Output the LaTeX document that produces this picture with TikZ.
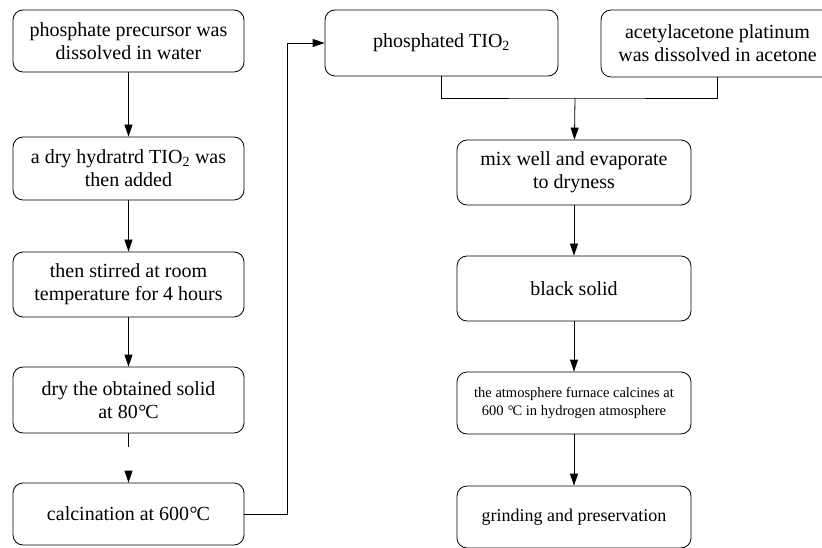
\documentclass[tikz,border=0pt]{standalone}
\usepackage{fontspec}
\setmainfont{Liberation Serif}
\usetikzlibrary{arrows.meta}
\newcommand{\degC}{{\kern0.5pt°\kern-1pt C}}
\tikzset{
  box/.style={draw=black, line width=0.8pt, rounded corners=10pt, rectangle, inner sep=0pt, align=center,
    font=\rmfamily\fontsize{20}{23}\selectfont, text=black},
  lbox/.style={box, minimum width=231pt},
  rbox/.style={box, minimum width=234pt},
  arr/.style={draw=black, line width=0.8pt, -{Triangle[width=8pt,length=12pt]}},
  ln/.style={draw=black, line width=0.8pt},
}
\begin{document}
\begin{tikzpicture}[x=1pt,y=-1pt]
\useasboundingbox (0,0) rectangle (822,548);
% left column
\node[lbox, minimum height=62pt] (b1) at (128.5,41) {phosphate precursor was\\dissolved in water};
\node[lbox, minimum height=63pt] (b2) at (128.5,168.5) {a dry hydratrd TIO\textsubscript{2} was\\then added};
\node[lbox, minimum height=65pt] (b3) at (128.5,284.5) {then stirred at room\\temperature for 4 hours};
\node[lbox, minimum height=66pt] (b4) at (128.5,400) {dry the obtained solid\\at 80\degC};
\node[lbox, minimum height=62pt] (b5) at (128.5,514) {calcination at 600\degC};
% top right
\node[box, minimum width=233pt, minimum height=66pt] (p) at (441.5,43) {phosphated TIO\textsubscript{2}};
\node[box, minimum width=233pt, minimum height=67pt] (a) at (717.5,43.5) {acetylacetone platinum\\was dissolved in acetone};
% right column
\node[rbox, minimum height=65pt] (m) at (574,172.5) {mix well and evaporate\\to dryness};
\node[rbox, minimum height=65pt] (s) at (574,288.5) {black solid};
\node[rbox, minimum height=62pt, font=\rmfamily\fontsize{14.5}{18}\selectfont] (f) at (574,403) {the atmosphere furnace calcines at\\600 \degC{} in hydrogen atmosphere};
\node[rbox, minimum height=62pt, font=\rmfamily\fontsize{18}{21}\selectfont] (g) at (574,517) {grinding and preservation};
\coordinate (j) at (575,98);
% connectors
\draw[arr] (b1) -- (b2);
\draw[arr] (b2) -- (b3);
\draw[arr] (b3) -- (b4);
\draw[arr, dash pattern=on 14pt off 40pt] (b4) -- (b5);
\draw[arr] (b5.east) -- ++(43,0) |- (p.west);
\draw[ln] (p.south) |- (j) -| (a.south);
\draw[arr] (j) -- (m);
\draw[arr] (m) -- (s);
\draw[arr] (s) -- (f);
\draw[arr] (f) -- (g);
\end{tikzpicture}
\end{document}
